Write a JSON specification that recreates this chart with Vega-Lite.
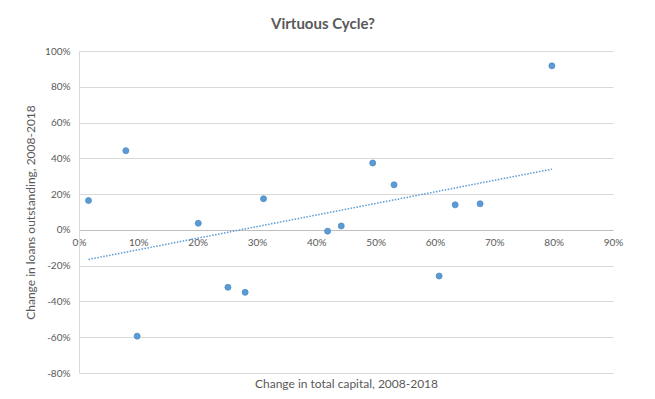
{
  "$schema": "https://vega.github.io/schema/vega-lite/v6.json",
  "width": 534,
  "height": 322,
  "autosize": {"type": "none"},
  "padding": {"left": 79, "top": 51, "right": 42, "bottom": 26},
  "background": "white",
  "title": {
    "text": "Virtuous Cycle?",
    "font": "Lato",
    "fontSize": 15,
    "fontWeight": "bold",
    "color": "#595959",
    "anchor": "middle",
    "dx": -23,
    "offset": 14
  },
  "config": {
    "view": {"stroke": null},
    "axis": {"labelFont": "Lato", "titleFont": "Lato", "labelColor": "#595959", "titleColor": "#595959", "labelFontSize": 10, "titleFontSize": 12, "titleFontWeight": "normal", "labelOverlap": false}
  },
  "data": {
    "values": [
      {"capital": 0.016, "loans": 0.164},
      {"capital": 0.079, "loans": 0.443},
      {"capital": 0.201, "loans": 0.037},
      {"capital": 0.311, "loans": 0.174},
      {"capital": 0.098, "loans": -0.594},
      {"capital": 0.251, "loans": -0.321},
      {"capital": 0.280, "loans": -0.349},
      {"capital": 0.419, "loans": -0.007},
      {"capital": 0.797, "loans": 0.917},
      {"capital": 0.495, "loans": 0.374},
      {"capital": 0.531, "loans": 0.252},
      {"capital": 0.634, "loans": 0.140},
      {"capital": 0.676, "loans": 0.146},
      {"capital": 0.442, "loans": 0.022},
      {"capital": 0.607, "loans": -0.258}
    ]
  },
  "layer": [
    {
      "mark": {"type": "point", "filled": true, "color": "#5b9bd5", "opacity": 1, "size": 36, "stroke": "#4f8cc4", "strokeWidth": 0.8},
      "encoding": {
        "x": {
          "field": "capital", "type": "quantitative",
          "scale": {"domain": [0, 0.9], "nice": false, "zero": false},
          "axis": {
            "title": "Change in total capital, 2008-2018",
            "values": [0, 0.1, 0.2, 0.3, 0.4, 0.5, 0.6, 0.7, 0.8, 0.9],
            "tickCount": 10,
            "labelExpr": "format(datum.value, '.0%')",
            "grid": false,
            "ticks": false,
            "domain": true,
            "domainColor": "#bfbfbf",
            "domainWidth": 1,
            "offset": -143,
            "labelPadding": 7,
            "labelFlush": false,
            "titleY": 153,
            "titleBaseline": "middle"
          }
        },
        "y": {
          "field": "loans", "type": "quantitative",
          "scale": {"domain": [-0.8, 1.0], "nice": false, "zero": false},
          "axis": {
            "title": "Change in loans outstanding, 2008-2018",
            "values": [-0.8, -0.6, -0.4, -0.2, 0, 0.2, 0.4, 0.6, 0.8, 1.0],
            "tickCount": 10,
            "labelExpr": "replace(format(datum.value, '.0%'), '\u2212', '-')",
            "grid": true,
            "gridColor": "#d9d9d9",
            "gridWidth": 1,
            "ticks": false,
            "domain": true,
            "domainColor": "#d9d9d9",
            "labelPadding": 9,
            "labelFlush": false,
            "titlePadding": 7
          }
        }
      }
    },
    {
      "transform": [{"regression": "loans", "on": "capital", "method": "linear"}],
      "mark": {"type": "line", "color": "#5b9bd5", "strokeWidth": 1.5, "strokeDash": [1.5, 1.5]},
      "encoding": {
        "x": {"field": "capital", "type": "quantitative"},
        "y": {"field": "loans", "type": "quantitative"}
      }
    }
  ]
}
